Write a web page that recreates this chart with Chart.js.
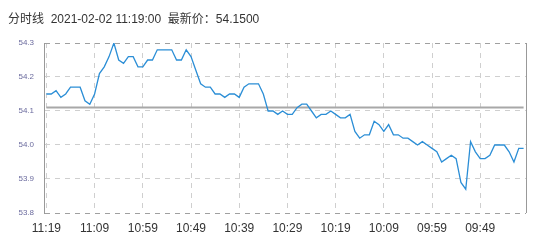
<!DOCTYPE html>
<html>
<head>
<meta charset="utf-8">
<script src="https://cdn.jsdelivr.net/npm/chart.js@4"></script>
<style>
  body { margin: 0; background: #fff; }
  #wrap { position: relative; width: 539px; height: 244px; }
  #title { position: absolute; left: 8px; top: 9px; font: 12px "Liberation Sans", "Noto Sans CJK SC", sans-serif; color: #333; white-space: pre; }
</style>
</head>
<body>
<div id="wrap">
  <canvas id="myChart" width="539" height="244"></canvas>
  <div id="title">分时线  2021-02-02 11:19:00  最新价：54.1500</div>
</div>
<script>
// minutes, latest first (11:19 back to 09:40)
var startHour = 11;
var startMinutes = 19;
var times = [];
for (var i = 0; i < 100; i++) {
    var m = startHour * 60 + startMinutes - i;
    var hh = Math.floor(m / 60), mm = m % 60;
    times.push((hh < 10 ? '0' : '') + hh + ':' + (mm < 10 ? '0' : '') + mm);
}

var prices = [
    54.15, 54.15, 54.16, 54.14, 54.15, 54.17, 54.17, 54.17, 54.13, 54.12,
    54.15, 54.21, 54.23, 54.26, 54.30, 54.25, 54.24, 54.26, 54.26, 54.23,
    54.23, 54.25, 54.25, 54.28, 54.28, 54.28, 54.28, 54.25, 54.25, 54.28,
    54.26, 54.22, 54.18, 54.17, 54.17, 54.15, 54.15, 54.14, 54.15, 54.15,
    54.14, 54.17, 54.18, 54.18, 54.18, 54.15, 54.10, 54.10, 54.09, 54.10,
    54.09, 54.09, 54.11, 54.12, 54.12, 54.10, 54.08, 54.09, 54.09, 54.10,
    54.09, 54.08, 54.08, 54.09, 54.04, 54.02, 54.03, 54.03, 54.07, 54.06,
    54.04, 54.06, 54.03, 54.03, 54.02, 54.02, 54.01, 54.00, 54.01, 54.00,
    53.99, 53.98, 53.95, 53.96, 53.97, 53.96, 53.89, 53.87, 54.01, 53.98,
    53.96, 53.96, 53.97, 54.00, 54.00, 54.00, 53.98, 53.95, 53.99, 53.99
];

var prevClose = 54.11;
var baseLine = prices.map(function () { return prevClose; });

var yMin = 53.8;
var yMax = 54.3;

// right frame line
var frame = {
    id: 'frame',
    afterDraw: function (chart) {
        var a = chart.chartArea, c = chart.ctx;
        c.save();
        c.strokeStyle = '#999';
        c.lineWidth = 1;
        c.beginPath();
        c.moveTo(a.right + 0.5, a.top);
        c.lineTo(a.right + 0.5, a.bottom);
        c.stroke();
        c.restore();
    }
};

var ctx = document.getElementById('myChart').getContext('2d');
var myChart = new Chart(ctx, {
    type: 'line',
    data: {
        labels: times,
        datasets: [{
            data: prices,
            borderColor: '#2b8ed6',
            borderWidth: 1.3,
            pointRadius: 0,
            tension: 0
        }, {
            data: baseLine,
            borderColor: '#a8a8a8',
            borderWidth: 2,
            pointRadius: 0
        }]
    },
    options: {
        responsive: false,
        animation: false,
        layout: { padding: { top: 43, right: 13, left: 0, bottom: 0 } },
        plugins: { legend: { display: false }, tooltip: { enabled: false } },
        scales: {
            x: {
                offset: true,
                grid: {
                    offset: false,
                    drawTicks: false,
                    color: '#cfcfcf'
                },
                border: { display: false, dash: [5, 5] },
                ticks: {
                    autoSkip: false,
                    maxRotation: 0,
                    padding: 8,
                    color: '#333',
                    font: { size: 12, family: 'Liberation Sans' },
                    callback: function (v, i) { return i % 10 === 0 ? times[i] : null; }
                },
                afterFit: function (s) { s.height = 31; }
            },
            y: {
                min: yMin,
                max: yMax,
                grid: {
                    drawTicks: false,
                    color: function (c) {
                        var v = c.tick ? c.tick.value : 0;
                        return (Math.abs(v - yMin) < 1e-6 || Math.abs(v - yMax) < 1e-6) ? '#a0a0a0' : '#cfcfcf';
                    }
                },
                border: { color: '#999', dash: [5, 5] },
                ticks: {
                    stepSize: 0.1,
                    padding: 10,
                    color: '#6b6b9e',
                    font: { size: 8, family: 'Liberation Sans' },
                    callback: function (v) { return v.toFixed(1); }
                },
                afterFit: function (s) { s.width = 44; }
            }
        }
    },
    plugins: [frame]
});
</script>
</body>
</html>
